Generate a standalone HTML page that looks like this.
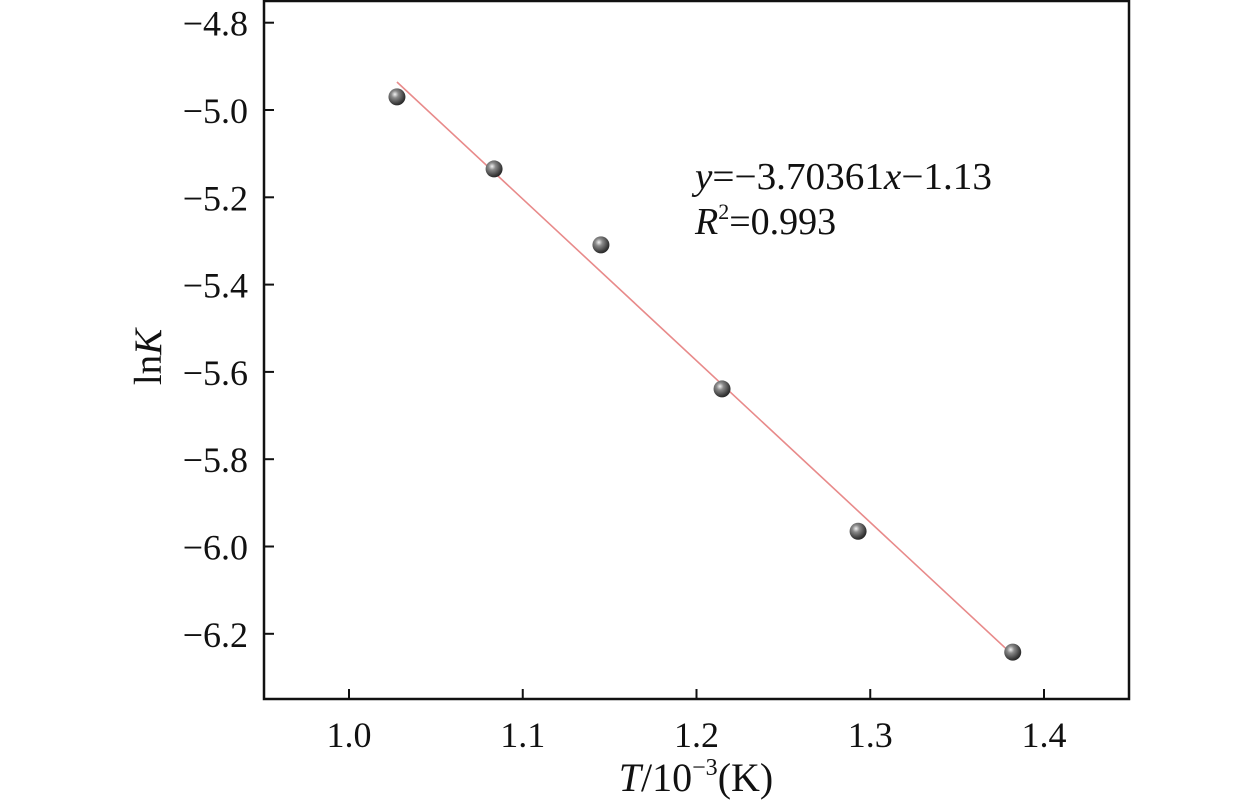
<!DOCTYPE html>
<html><head><meta charset="utf-8"><style>
html,body{margin:0;padding:0;background:#fff;}
svg{display:block;font-family:"Liberation Serif",serif;}
</style></head><body>
<svg id="chart" width="1259" height="804" viewBox="0 0 1259 804" xmlns="http://www.w3.org/2000/svg">
<defs>
<radialGradient id="ball" cx="0.38" cy="0.35" r="0.7">
<stop offset="0" stop-color="#f2f2f2"/>
<stop offset="0.3" stop-color="#8a8a8a"/>
<stop offset="0.8" stop-color="#3a3a3a"/>
<stop offset="1" stop-color="#222"/>
</radialGradient>
</defs>
<g id="plot"></g>
</svg>
<script>
const xVals = [1.0276, 1.0835, 1.145, 1.2147, 1.293, 1.382];
const yVals = [-4.970, -5.135, -5.309, -5.639, -5.965, -6.242];
const xTicks = [1.0, 1.1, 1.2, 1.3, 1.4];
const yTicks = [-4.8, -5.0, -5.2, -5.4, -5.6, -5.8, -6.0, -6.2];
const fitCoef = [-3.70361, -1.13];
const fitRange = [1.0276, 1.382];

const L = 264, R = 1129, T = 1, B = 699;
function sx(v){ return 349 + (v - 1.0) * 1737.5; }
function sy(v){ return 22.7 + (-4.8 - v) * 436.5; }
const NS = 'http://www.w3.org/2000/svg';
const g = document.getElementById('plot');
function mk(tag, attrs){ const e = document.createElementNS(NS, tag); for (const k in attrs) e.setAttribute(k, attrs[k]); g.appendChild(e); return e; }

const frame = mk('rect', {x:L, y:T, width:R-L, height:B-T, fill:'none', stroke:'#111', 'stroke-width':2.5});



xTicks.forEach(t => {
  const x = sx(t);
  const tk = mk('line', {x1:x, x2:x, y1:B, y2:B-10, stroke:'#111', 'stroke-width':2});
  
  
  const lb = mk('text', {x:x, y:747, 'text-anchor':'middle', 'font-size':36, fill:'#111'});
  lb.textContent = t.toFixed(1);
  
  
});
yTicks.forEach(t => {
  const y = sy(t);
  const tk = mk('line', {x1:L, x2:L+10, y1:y, y2:y, stroke:'#111', 'stroke-width':2});
  
  
  const lb = mk('text', {x:248, y:y+13, 'text-anchor':'end', 'font-size':36, fill:'#111'});
  lb.textContent = '\u2212' + Math.abs(t).toFixed(1);
  
  
});

const fl = mk('line', {x1:sx(fitRange[0]), y1:sy(fitCoef[0]*fitRange[0]+fitCoef[1]), x2:sx(fitRange[1]), y2:sy(fitCoef[0]*fitRange[1]+fitCoef[1]), stroke:'#e88a8a', 'stroke-width':1.6});



xVals.forEach((v, i) => {
  const c = mk('circle', {cx:sx(v), cy:sy(yVals[i]), r:8.5, fill:'url(#ball)'});
  
  
});

const a1 = mk('text', {x:695, y:189, 'font-size':38, fill:'#111', textLength:297, lengthAdjust:'spacingAndGlyphs'});
a1.innerHTML = '<tspan font-style="italic">y</tspan>=\u22123.70361<tspan font-style="italic">x</tspan>\u22121.13';


const a2 = mk('text', {x:695, y:234, 'font-size':38, fill:'#111'});
a2.innerHTML = '<tspan font-style="italic">R</tspan><tspan font-size="22" dy="-15">2</tspan><tspan dy="15">=0.993</tspan>';



const xt = mk('text', {x:696, y:791, 'text-anchor':'middle', 'font-size':40, fill:'#111'});
xt.innerHTML = '<tspan font-style="italic">T</tspan>/10<tspan font-size="24" dy="-16">\u22123</tspan><tspan dy="16">(K)</tspan>';


const yt = mk('text', {x:0, y:0, 'text-anchor':'middle', 'font-size':39, fill:'#111', transform:'translate(161,357) rotate(-90)'});
yt.innerHTML = 'ln<tspan font-style="italic">K</tspan>';


</script>
</body></html>
